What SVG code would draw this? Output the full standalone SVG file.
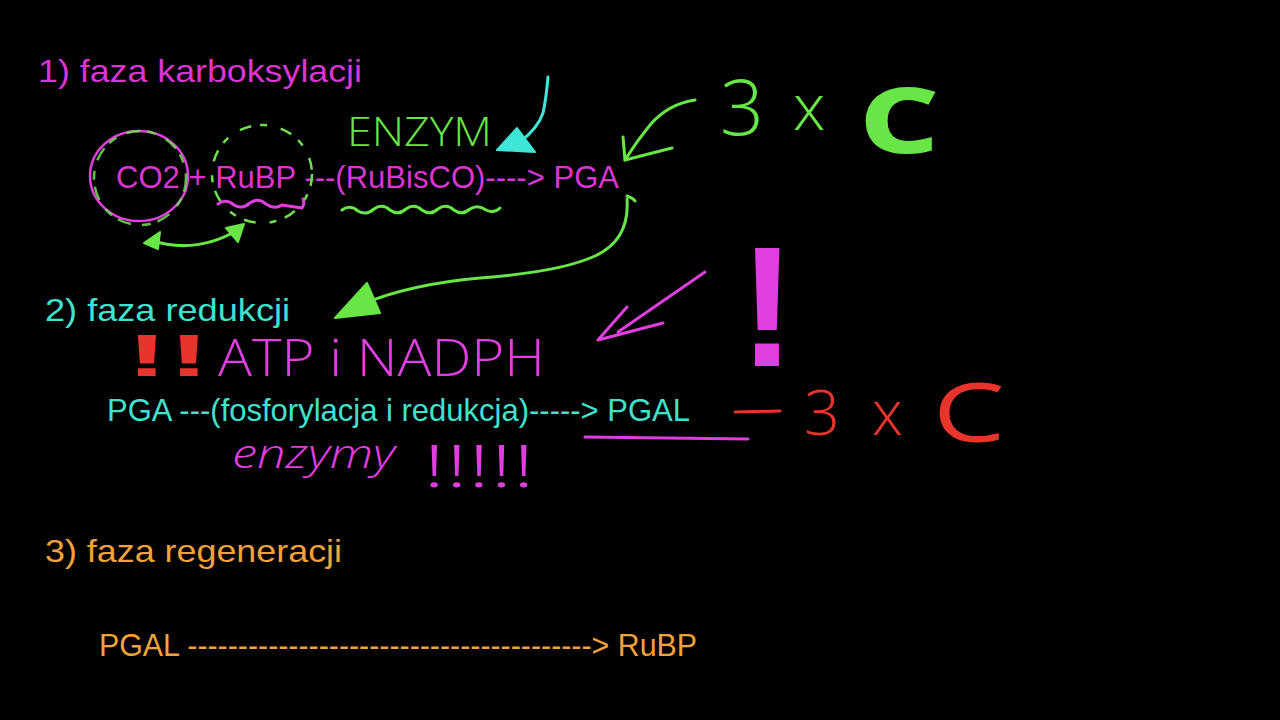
<svg xmlns="http://www.w3.org/2000/svg" width="1280" height="720" viewBox="0 0 1280 720">
<defs>
<style>
.t{font-family:"Liberation Sans",Arial,sans-serif;font-size:32px}
.mag{fill:#db34d4}
.cy{fill:#3fe2cf}
.or{fill:#f2a23c}
.hw{font-family:"Open Sans","Liberation Sans",sans-serif;font-weight:300}
.hwb{font-family:"Open Sans","Liberation Sans",sans-serif;font-weight:700}
.gs{fill:none;stroke:#68e646;stroke-width:3;stroke-linecap:round;stroke-linejoin:round}
.ms{fill:none;stroke:#e03ee0;stroke-width:3;stroke-linecap:round;stroke-linejoin:round}
.cs{fill:none;stroke:#3fe6d8;stroke-width:3;stroke-linecap:round;stroke-linejoin:round}
.rs{fill:none;stroke:#e8342c;stroke-width:3;stroke-linecap:round}
</style>
</defs>
<rect width="1280" height="720" fill="#000"/>

<g id="phase1">
<text class="t mag" x="38" y="82" font-size="35" textLength="324" lengthAdjust="spacingAndGlyphs">1) faza karboksylacji</text>
<text class="t mag" x="116" y="188" font-size="32" textLength="503" lengthAdjust="spacingAndGlyphs">CO2 + RuBP ---(RuBisCO)----&gt; PGA</text>
</g>

<g id="phase2">
<text class="t cy" x="45" y="321" font-size="35" textLength="245" lengthAdjust="spacingAndGlyphs">2) faza redukcji</text>
<text class="t cy" x="107" y="421" font-size="32" textLength="583" lengthAdjust="spacingAndGlyphs">PGA ---(fosforylacja i redukcja)-----&gt; PGAL</text>
</g>

<g id="phase3">
<text class="t or" x="45" y="562" font-size="35" textLength="297" lengthAdjust="spacingAndGlyphs">3) faza regeneracji</text>
<text class="t or" x="99" y="656" font-size="32" textLength="598" lengthAdjust="spacingAndGlyphs">PGAL ----------------------------------------&gt; RuBP</text>
</g>

<g id="highlights">
<ellipse cx="139" cy="176" rx="49" ry="45" fill="none" stroke="#e03ee0" stroke-width="2.5"/>
<ellipse cx="140" cy="178" rx="46" ry="47" fill="none" stroke="#6ee050" stroke-width="2.5" stroke-dasharray="14 7 9 11" opacity="0.85"/>
<ellipse cx="262" cy="174" rx="50" ry="49" fill="none" stroke="#6ee050" stroke-width="2.5" stroke-dasharray="12 9 7 14"/>
<path class="ms" d="M218 204 Q226 198 234 205 Q242 210 250 203 Q258 197 266 204 Q274 210 282 205 L302 208 Q305 204 303 199"/>
<path class="gs" d="M342 210 Q350 204 358 211 Q366 216 374 209 Q382 203 390 210 Q398 216 406 209 Q414 203 422 210 Q430 216 438 209 Q446 203 454 210 Q462 216 470 209 Q478 204 486 210 Q494 214 500 208"/>
<line class="ms" x1="585" y1="437" x2="748" y2="439"/>
</g>

<g id="enzym-note">
<text class="hw" x="347" y="146" font-size="40" fill="#68e646" textLength="145" lengthAdjust="spacingAndGlyphs">ENZYM</text>
</g>

<g id="carbon-green">
<text class="hw" x="720" y="135" font-size="77" fill="#68e646">3</text>
<text class="hw" x="793" y="130" font-size="65" fill="#68e646">x</text>
<text class="hwb" x="860" y="152" font-size="88" fill="#68e646" stroke="#68e646" stroke-width="2" textLength="78" lengthAdjust="spacingAndGlyphs">C</text>
</g>

<g id="atp-note">
<text x="126" y="376" font-family="'Liberation Sans',sans-serif" font-size="60" font-weight="bold" fill="#e8342c" textLength="84" lengthAdjust="spacingAndGlyphs">!!</text>
<text class="hw" x="218" y="376" font-size="52" fill="#e03ee0" textLength="327" lengthAdjust="spacingAndGlyphs">ATP i NADPH</text>
</g>

<g id="enzymy-note">
<text class="hw" x="232" y="468" font-size="40" font-style="italic" fill="#e03ee0" textLength="163" lengthAdjust="spacingAndGlyphs">enzymy</text>
<text class="hw" x="423" y="487" font-size="58" fill="#e03ee0" textLength="112" lengthAdjust="spacingAndGlyphs">!!!!!</text>
</g>

<g id="big-exclamation">
<text x="739" y="366" font-family="'Liberation Sans',sans-serif" font-size="170" font-weight="bold" fill="#e03ee0">!</text>
</g>

<g id="carbon-red">
<line class="rs" x1="735" y1="412" x2="780" y2="411"/>
<text class="hw" x="804" y="435" font-size="63" fill="#e8342c">3</text>
<text class="hw" x="872" y="435" font-size="62" fill="#e8342c">x</text>
<text class="hw" x="935" y="440" font-size="78" fill="#e8342c" stroke="#e8342c" stroke-width="3" textLength="67" lengthAdjust="spacingAndGlyphs">C</text>
</g>

<g id="connectors">
<path class="gs" d="M150 240 Q195 255 238 230"/>
<polygon points="144,243 160,232 158,249" fill="#68e646" stroke="#68e646" stroke-width="2" stroke-linejoin="round"/>
<polygon points="244,224 226,228 238,242" fill="#68e646" stroke="#68e646" stroke-width="2" stroke-linejoin="round"/>
<path class="cs" d="M548 77 Q546 100 543 113 Q538 128 520 142"/>
<polygon points="497,150 535,152 517,128" fill="#3fe6d8" stroke="#3fe6d8" stroke-width="2" stroke-linejoin="round"/>
<path class="gs" d="M695 100 Q668 104 650 125 Q636 142 625 160"/>
<path class="gs" d="M623 137 L625 160 L672 148"/>
<path class="gs" d="M627 196 Q633 198 635 201"/>
<path class="gs" d="M627 199 Q630 240 595 256 Q560 272 480 278 Q410 284 360 305"/>
<polygon points="335,318 380,313 367,283" fill="#68e646" stroke="#68e646" stroke-width="2" stroke-linejoin="round"/>
<path class="ms" d="M705 272 L618 332"/>
<path class="ms" d="M627 307 L598 340 L663 323"/>
</g>
</svg>
